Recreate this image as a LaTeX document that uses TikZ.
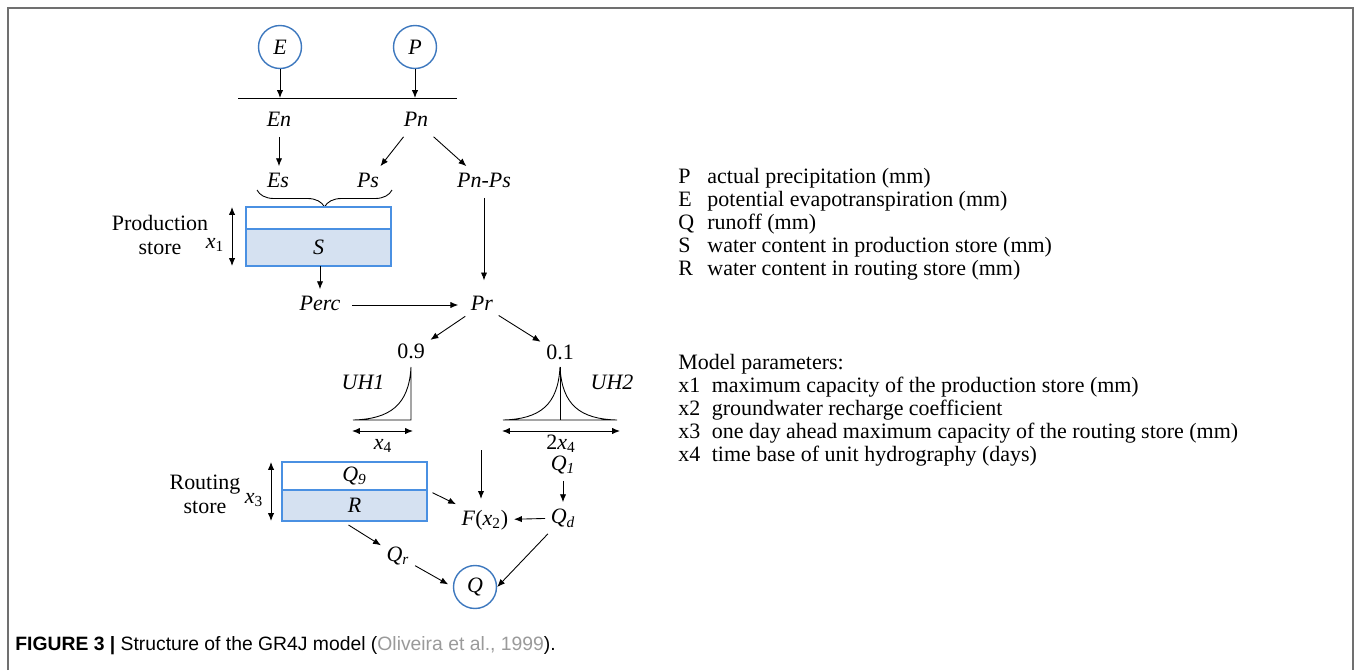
\documentclass[tikz,border=0pt]{standalone}
\usepackage{fontspec}
\setmainfont{Liberation Serif}
\setsansfont{Liberation Sans}
\usetikzlibrary{arrows.meta, calc, decorations.pathreplacing}

\definecolor{circblue}{HTML}{3D78BE}
\definecolor{boxblue}{HTML}{4A90E2}
\definecolor{boxfill}{HTML}{D5E1F1}
\definecolor{framegray}{HTML}{707070}
\definecolor{citegray}{HTML}{9A9A9A}

\begin{document}
\begin{tikzpicture}[x=0.02cm, y=-0.02cm,
    font=\fontsize{12.5pt}{13.1pt}\selectfont,
    >={Latex[length=4.5pt,width=3.6pt]},
    line width=0.5pt,
    lbl/.style={inner sep=3pt, text height=9pt, text depth=2.5pt},
    src/.style={circle, draw=circblue, line width=0.8pt, minimum size=0.86cm, inner sep=0pt},
    storebox/.style={draw=boxblue, line width=0.8pt, minimum width=2.9cm, inner sep=0pt, outer sep=0pt}]
    \useasboundingbox (0,0) rectangle (1356,670);
    \draw[framegray, line width=0.9pt] (8,670) -- (8,8) -- (1353,8) -- (1353,670);

    % inputs
    \node[src] (E) at (280,47) {\textit{E}};
    \node[src] (P) at (415,47) {\textit{P}};
    \coordinate (barL) at (238,98);
    \coordinate (barR) at (457,98);
    \draw (barL) -- (barR);
    \draw[->] (E) -- (E |- barL);
    \draw[->] (P) -- (P |- barL);

    \node[lbl] (En) at (279,121) {\textit{En}};
    \node[lbl] (Pn) at (416,121) {\textit{Pn}};
    \node[lbl] (Es) at (278,182) {\textit{Es}};
    \node[lbl] (Ps) at (368,182) {\textit{Ps}};
    \node[lbl] (PnPs) at (484,182) {\textit{Pn-Ps}};
    \draw[->] (En) -- (En |- Es.north);
    \draw[->] (Pn) -- (Ps);
    \draw[->] (Pn) -- (PnPs);

    % production store
    \draw[decorate, decoration={brace, mirror, amplitude=0.34cm}] (257,190) -- (392,190);
    \node[storebox, fill=white, minimum height=0.44cm] (Stop) at (318.5,218) {};
    \node[storebox, fill=boxfill, minimum height=0.74cm, anchor=north] (S) at (Stop.south) {\textit{S}};
    \draw[<->] ([xshift=-0.28cm]Stop.north west) -- ([xshift=-0.28cm]S.south west);
    \node[lbl] (xone) at (215,243) {\textit{x}\textsubscript{1}};
    \node[align=center, font=\fontsize{12.5pt}{25pt}\selectfont] (prodlbl) at (160,235) {Production\\[-11.5pt] store};

    \node[lbl] (Perc) at (320,305) {\textit{Perc}};
    \node[lbl] (Pr) at (482,305) {\textit{Pr}};
    \draw[->] (S.south -| Perc) -- (Perc);
    \draw[->, shorten <=3.5pt, shorten >=4pt] (Perc) -- (Pr);
    \draw[->, shorten >=5pt] (PnPs) -- (PnPs |- Pr.north);

    % unit hydrographs
    \node[lbl] (pnine) at (411,353) {0.9};
    \node[lbl] (pone) at (560,354) {0.1};
    \draw[->] (Pr) -- (pnine);
    \draw[->] (Pr) -- (pone);

    \coordinate (uhoneT) at (411,367);
    \coordinate (uhoneL) at (353,420);
    \coordinate (uhoneR) at (411,420);
    \draw (uhoneL) .. controls (390,419) and (409,405) .. (uhoneT) -- (uhoneR) -- cycle;
    \node[lbl] (uhone) at (363,384) {\textit{UH1}};
    \draw[<->] (352,431) -- (413,431);
    \node[lbl] (xfour) at (383,444) {\textit{x}\textsubscript{4}};

    \coordinate (uhtwoT) at (560,367);
    \coordinate (uhtwoL) at (503,420);
    \coordinate (uhtwoR) at (617,420);
    \draw (uhtwoL) .. controls (540,419) and (558,405) .. (uhtwoT)
        .. controls (562,405) and (580,419) .. (uhtwoR) -- cycle;
    \draw (uhtwoT) -- (uhtwoT |- uhtwoR);
    \node[lbl] (uhtwo) at (612,384) {\textit{UH2}};
    \draw[<->] (502,431) -- (620,431);
    \node[lbl] (twoxfour) at (561,444) {2\textit{x}\textsubscript{4}};

    % routing
    \node[lbl] (F) at (485,520) {\textit{F}(\textit{x}\textsubscript{2})};
    \node[lbl] (Qone) at (563,465) {\textit{Q}\textsubscript{\textit{1}}};
    \node[lbl] (Qd) at (563,518) {\textit{Q}\textsubscript{\textit{d}}};
    \coordinate (uhout) at (481,450);
    \draw[->, shorten >=3pt] (uhout) -- (uhout |- F.north);
    \draw[->] (Qone) -- (Qd);
    \draw[->] (Qd) -- (F);

    \node[storebox, fill=white, minimum height=0.56cm] (Rtop) at (354.5,476) {\textit{Q}\textsubscript{\textit{9}}};
    \node[storebox, fill=boxfill, minimum height=0.62cm, anchor=north] (R) at (Rtop.south) {\textit{R}};
    \draw[<->] ([xshift=-0.22cm]Rtop.north west) -- ([xshift=-0.22cm]R.south west);
    \node[lbl] (xthree) at (254,498) {\textit{x}\textsubscript{3}};
    \node[align=center, font=\fontsize{12.5pt}{25pt}\selectfont] (routlbl) at (205,494) {Routing\\[-11.5pt] store};
    \draw[->, shorten <=3.5pt] (R.north east) -- (F.north west);

    \node[lbl] (Qr) at (398,556) {\textit{Q}\textsubscript{\textit{r}}};
    \node[src] (Q) at (475,587) {\textit{Q}};
    \draw[->] ([shift={(-6,4)}]R.south) -- (Qr);
    \draw[->, shorten >=3pt] (Qr) -- (Q.west);
    \draw[->] (Qd) -- (Q.east);

    % legend
    \node[anchor=base west, inner sep=0pt] (varlegend) at (678,183) {%
      \begin{tabular}[t]{@{}p{16.5pt}@{}l@{}}
        P & actual precipitation (mm)\\
        E & potential evapotranspiration (mm)\\
        Q & runoff (mm)\\
        S & water content in production store (mm)\\
        R & water content in routing store (mm)
      \end{tabular}};
    \node[anchor=base west, inner sep=0pt] (parlegend) at (678,369) {%
      \begin{tabular}[t]{@{}p{19pt}@{}l@{}}
        \multicolumn{2}{@{}l@{}}{Model parameters:}\\
        x1 & maximum capacity of the production store (mm)\\
        x2 & groundwater recharge coefficient\\
        x3 & one day ahead maximum capacity of the routing store (mm)\\
        x4 & time base of unit hydrography (days)
      \end{tabular}};

    \node[anchor=base west, inner sep=0pt, font=\sffamily\fontsize{11pt}{13pt}\selectfont] (caption) at (15,650)
      {\textbf{FIGURE 3 |} Structure of the GR4J model (\textcolor{citegray}{Oliveira et al., 1999}).};
\end{tikzpicture}
\end{document}
